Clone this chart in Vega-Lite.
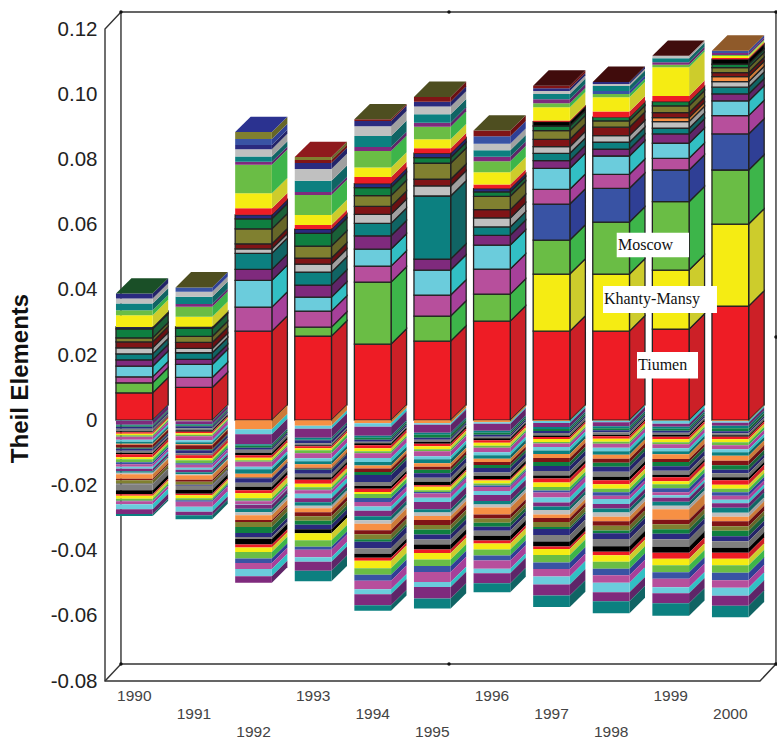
{"$schema":"https://vega.github.io/schema/vega-lite/v6.json","width":655,"height":652,"autosize":"none","padding":{"left":105,"top":29,"right":17,"bottom":64},"background":"white","config":{"view":{"stroke":null}},
"datasets":{"main":[
{"y":1990,"r":"P01","v":0.00838},{"y":1990,"r":"P03","v":0.00307},{"y":1990,"r":"P05","v":0.00184},{"y":1990,"r":"P06","v":0.00328},{"y":1990,"r":"P07","v":0.00193},{"y":1990,"r":"P08","v":0.00184},{"y":1990,"r":"P09","v":0.00184},{"y":1990,"r":"P11","v":0.00184},{"y":1990,"r":"P12","v":0.00123},{"y":1990,"r":"P13","v":0.00276},{"y":1990,"r":"P14","v":0.00061},{"y":1990,"r":"U17","v":0.00359},{"y":1990,"r":"U18","v":0.00153},{"y":1990,"r":"U21","v":0.00206},{"y":1990,"r":"U22","v":0.00153},{"y":1990,"r":"U23","v":0.00153},
{"y":1991,"r":"P01","v":0.01004},{"y":1991,"r":"P05","v":0.00307},{"y":1991,"r":"P06","v":0.00399},{"y":1991,"r":"P07","v":0.00153},{"y":1991,"r":"P08","v":0.00206},{"y":1991,"r":"P09","v":0.00132},{"y":1991,"r":"P11","v":0.00184},{"y":1991,"r":"P12","v":0.00184},{"y":1991,"r":"P13","v":0.00246},{"y":1991,"r":"P14","v":0.00052},{"y":1991,"r":"U17","v":0.00307},{"y":1991,"r":"U18","v":0.00307},{"y":1991,"r":"U20","v":0.00083},{"y":1991,"r":"U21","v":0.00224},{"y":1991,"r":"U22","v":0.00153},{"y":1991,"r":"U24","v":0.00132},
{"y":1992,"r":"P01","v":0.02732},{"y":1992,"r":"P05","v":0.00737},{"y":1992,"r":"P06","v":0.0082},{"y":1992,"r":"P07","v":0.00338},{"y":1992,"r":"P08","v":0.00491},{"y":1992,"r":"P09","v":0.00138},{"y":1992,"r":"P11","v":0.00153},{"y":1992,"r":"P12","v":0.00461},{"y":1992,"r":"P13","v":0.00307},{"y":1992,"r":"P14","v":0.00123},{"y":1992,"r":"U16","v":0.002},{"y":1992,"r":"U17","v":0.00461},{"y":1992,"r":"U18","v":0.00872},{"y":1992,"r":"U20","v":0.00092},{"y":1992,"r":"U21","v":0.00163},{"y":1992,"r":"U22","v":0.00227},{"y":1992,"r":"U23","v":0.00123},{"y":1992,"r":"U24","v":0.00184},{"y":1992,"r":"U26","v":0.00215},
{"y":1993,"r":"P01","v":0.02579},{"y":1993,"r":"P03","v":0.00276},{"y":1993,"r":"P05","v":0.00491},{"y":1993,"r":"P06","v":0.0043},{"y":1993,"r":"P07","v":0.00368},{"y":1993,"r":"P08","v":0.00399},{"y":1993,"r":"P09","v":0.00246},{"y":1993,"r":"P11","v":0.00184},{"y":1993,"r":"P12","v":0.00368},{"y":1993,"r":"P13","v":0.0039},{"y":1993,"r":"P14","v":0.00132},{"y":1993,"r":"U16","v":0.00123},{"y":1993,"r":"U17","v":0.00307},{"y":1993,"r":"U18","v":0.00614},{"y":1993,"r":"U20","v":0.00092},{"y":1993,"r":"U21","v":0.00347},{"y":1993,"r":"U22","v":0.00359},{"y":1993,"r":"U23","v":0.00184},{"y":1993,"r":"U25","v":0.00092},{"y":1993,"r":"U26","v":0.00092},
{"y":1994,"r":"P01","v":0.02333},{"y":1994,"r":"P03","v":0.01903},{"y":1994,"r":"P05","v":0.00491},{"y":1994,"r":"P06","v":0.00522},{"y":1994,"r":"P07","v":0.00408},{"y":1994,"r":"P08","v":0.00381},{"y":1994,"r":"P09","v":0.00276},{"y":1994,"r":"P11","v":0.00246},{"y":1994,"r":"P12","v":0.00328},{"y":1994,"r":"P13","v":0.00246},{"y":1994,"r":"P14","v":0.00123},{"y":1994,"r":"U16","v":0.00203},{"y":1994,"r":"U17","v":0.00289},{"y":1994,"r":"U18","v":0.0051},{"y":1994,"r":"U20","v":0.00123},{"y":1994,"r":"U21","v":0.00338},{"y":1994,"r":"U22","v":0.00298},{"y":1994,"r":"U23","v":0.00163},{"y":1994,"r":"U25","v":0.00052},
{"y":1995,"r":"P01","v":0.02425},{"y":1995,"r":"P03","v":0.00768},{"y":1995,"r":"P05","v":0.00645},{"y":1995,"r":"P06","v":0.00768},{"y":1995,"r":"P07","v":0.00338},{"y":1995,"r":"P08","v":0.01934},{"y":1995,"r":"P09","v":0.00307},{"y":1995,"r":"P11","v":0.00206},{"y":1995,"r":"P12","v":0.00491},{"y":1995,"r":"P13","v":0.00172},{"y":1995,"r":"P14","v":0.00135},{"y":1995,"r":"U16","v":0.00153},{"y":1995,"r":"U17","v":0.00276},{"y":1995,"r":"U18","v":0.00387},{"y":1995,"r":"U20","v":0.00123},{"y":1995,"r":"U21","v":0.00258},{"y":1995,"r":"U22","v":0.00233},{"y":1995,"r":"U23","v":0.00153},{"y":1995,"r":"U25","v":0.00144},
{"y":1996,"r":"P01","v":0.03039},{"y":1996,"r":"P03","v":0.00829},{"y":1996,"r":"P05","v":0.00768},{"y":1996,"r":"P06","v":0.00737},{"y":1996,"r":"P07","v":0.00298},{"y":1996,"r":"P08","v":0.00258},{"y":1996,"r":"P09","v":0.00276},{"y":1996,"r":"P11","v":0.00255},{"y":1996,"r":"P12","v":0.00408},{"y":1996,"r":"P13","v":0.00135},{"y":1996,"r":"P14","v":0.00101},{"y":1996,"r":"U16","v":0.00123},{"y":1996,"r":"U17","v":0.00378},{"y":1996,"r":"U18","v":0.00338},{"y":1996,"r":"U20","v":0.00135},{"y":1996,"r":"U21","v":0.00203},{"y":1996,"r":"U22","v":0.00196},{"y":1996,"r":"U24","v":0.00233},{"y":1996,"r":"U25","v":0.00175},
{"y":1997,"r":"P01","v":0.02732},{"y":1997,"r":"P02","v":0.0175},{"y":1997,"r":"P03","v":0.01044},{"y":1997,"r":"P04","v":0.01105},{"y":1997,"r":"P05","v":0.00451},{"y":1997,"r":"P06","v":0.00645},{"y":1997,"r":"P07","v":0.00233},{"y":1997,"r":"P08","v":0.00227},{"y":1997,"r":"P09","v":0.00203},{"y":1997,"r":"P11","v":0.00227},{"y":1997,"r":"P12","v":0.00264},{"y":1997,"r":"P13","v":0.00144},{"y":1997,"r":"P15","v":0.00132},{"y":1997,"r":"U16","v":0.00037},{"y":1997,"r":"U17","v":0.00405},{"y":1997,"r":"U18","v":0.00123},{"y":1997,"r":"U20","v":0.00123},{"y":1997,"r":"U21","v":0.00163},{"y":1997,"r":"U22","v":0.00092},{"y":1997,"r":"U23","v":0.00083},{"y":1997,"r":"U25","v":0.0008},
{"y":1998,"r":"P01","v":0.02732},{"y":1998,"r":"P02","v":0.0175},{"y":1998,"r":"P03","v":0.01596},{"y":1998,"r":"P04","v":0.01035},{"y":1998,"r":"P05","v":0.0043},{"y":1998,"r":"P06","v":0.00562},{"y":1998,"r":"P07","v":0.00206},{"y":1998,"r":"P08","v":0.00215},{"y":1998,"r":"P09","v":0.00203},{"y":1998,"r":"P11","v":0.00258},{"y":1998,"r":"P12","v":0.00193},{"y":1998,"r":"P13","v":0.00114},{"y":1998,"r":"U16","v":0.00172},{"y":1998,"r":"U17","v":0.00442},{"y":1998,"r":"U18","v":0.00101},{"y":1998,"r":"U19","v":0.00092},{"y":1998,"r":"U21","v":0.00153},{"y":1998,"r":"U22","v":0.00061},{"y":1998,"r":"U23","v":0.00061},
{"y":1999,"r":"P01","v":0.02794},{"y":1999,"r":"P02","v":0.01811},{"y":1999,"r":"P03","v":0.02097},{"y":1999,"r":"P04","v":0.00973},{"y":1999,"r":"P05","v":0.00359},{"y":1999,"r":"P06","v":0.00461},{"y":1999,"r":"P07","v":0.00286},{"y":1999,"r":"P08","v":0.00175},{"y":1999,"r":"P09","v":0.00203},{"y":1999,"r":"P10","v":0.00123},{"y":1999,"r":"P11","v":0.00153},{"y":1999,"r":"P12","v":0.00206},{"y":1999,"r":"P13","v":0.00132},{"y":1999,"r":"U16","v":0.00175},{"y":1999,"r":"U17","v":0.00881},{"y":1999,"r":"U18","v":0.00071},{"y":1999,"r":"U20","v":0.00083},{"y":1999,"r":"U21","v":0.00123},{"y":1999,"r":"U22","v":0.00071},
{"y":2000,"r":"P01","v":0.035},{"y":2000,"r":"P02","v":0.02517},{"y":2000,"r":"P03","v":0.01658},{"y":2000,"r":"P04","v":0.01105},{"y":2000,"r":"P05","v":0.00562},{"y":2000,"r":"P06","v":0.00451},{"y":2000,"r":"P07","v":0.00215},{"y":2000,"r":"P08","v":0.00206},{"y":2000,"r":"P09","v":0.00172},{"y":2000,"r":"P10","v":0.00153},{"y":2000,"r":"P11","v":0.00123},{"y":2000,"r":"P12","v":0.00153},{"y":2000,"r":"P13","v":0.00104},{"y":2000,"r":"P15","v":0.00153},{"y":2000,"r":"U16","v":0.0004},{"y":2000,"r":"U17","v":0.00061},{"y":2000,"r":"U18","v":0.00031},{"y":2000,"r":"U24","v":0.00071},{"y":2000,"r":"U20","v":0.00061},
{"y":1990,"r":"N02","v":-0.00015},{"y":1990,"r":"N03","v":-0.00123},{"y":1990,"r":"N04","v":-0.00031},{"y":1990,"r":"N05","v":-0.00031},{"y":1990,"r":"N06","v":-0.00061},{"y":1990,"r":"N07","v":-0.00077},{"y":1990,"r":"N08","v":-0.00031},{"y":1990,"r":"N09","v":-0.00046},{"y":1990,"r":"N10","v":-0.00046},{"y":1990,"r":"N11","v":-0.00046},{"y":1990,"r":"N12","v":-0.00092},{"y":1990,"r":"N13","v":-0.00061},{"y":1990,"r":"N14","v":-0.00061},{"y":1990,"r":"N15","v":-0.00031},{"y":1990,"r":"N16","v":-0.00092},{"y":1990,"r":"N17","v":-0.00031},{"y":1990,"r":"N18","v":-0.00061},{"y":1990,"r":"N19","v":-0.00061},{"y":1990,"r":"N20","v":-0.00046},{"y":1990,"r":"N21","v":-0.00092},{"y":1990,"r":"N22","v":-0.00061},{"y":1990,"r":"N23","v":-0.00092},{"y":1990,"r":"N24","v":-0.00061},{"y":1990,"r":"N25","v":-0.00077},{"y":1990,"r":"N26","v":-0.00061},{"y":1990,"r":"N27","v":-0.00077},{"y":1990,"r":"N28","v":-0.00046},{"y":1990,"r":"N29","v":-0.00046},{"y":1990,"r":"N30","v":-0.00138},{"y":1990,"r":"N31","v":-0.00046},{"y":1990,"r":"N32","v":-0.00107},{"y":1990,"r":"N34","v":-0.00015},{"y":1990,"r":"N35","v":-0.00184},{"y":1990,"r":"N36","v":-0.00123},{"y":1990,"r":"N37","v":-0.00046},{"y":1990,"r":"N38","v":-0.00092},{"y":1990,"r":"N39","v":-0.00061},{"y":1990,"r":"N40","v":-0.00015},{"y":1990,"r":"N41","v":-0.00092},{"y":1990,"r":"N42","v":-0.00153},{"y":1990,"r":"N43","v":-0.00153},{"y":1990,"r":"N44","v":-0.00061},
{"y":1991,"r":"N01","v":-0.00015},{"y":1991,"r":"N02","v":-0.00015},{"y":1991,"r":"N03","v":-0.00092},{"y":1991,"r":"N04","v":-0.00031},{"y":1991,"r":"N05","v":-0.00031},{"y":1991,"r":"N06","v":-0.00061},{"y":1991,"r":"N07","v":-0.00061},{"y":1991,"r":"N08","v":-0.00046},{"y":1991,"r":"N09","v":-0.00046},{"y":1991,"r":"N10","v":-0.00046},{"y":1991,"r":"N11","v":-0.00046},{"y":1991,"r":"N12","v":-0.00123},{"y":1991,"r":"N13","v":-0.00061},{"y":1991,"r":"N14","v":-0.00061},{"y":1991,"r":"N15","v":-0.00031},{"y":1991,"r":"N16","v":-0.00123},{"y":1991,"r":"N17","v":-0.00031},{"y":1991,"r":"N18","v":-0.00092},{"y":1991,"r":"N19","v":-0.00046},{"y":1991,"r":"N20","v":-0.00015},{"y":1991,"r":"N21","v":-0.00092},{"y":1991,"r":"N22","v":-0.00061},{"y":1991,"r":"N23","v":-0.00092},{"y":1991,"r":"N24","v":-0.00046},{"y":1991,"r":"N25","v":-0.00092},{"y":1991,"r":"N26","v":-0.00061},{"y":1991,"r":"N27","v":-0.00077},{"y":1991,"r":"N28","v":-0.00061},{"y":1991,"r":"N29","v":-0.00031},{"y":1991,"r":"N30","v":-0.00138},{"y":1991,"r":"N31","v":-0.00061},{"y":1991,"r":"N32","v":-0.00092},{"y":1991,"r":"N34","v":-0.00031},{"y":1991,"r":"N35","v":-0.00123},{"y":1991,"r":"N36","v":-0.00123},{"y":1991,"r":"N37","v":-0.00046},{"y":1991,"r":"N38","v":-0.00092},{"y":1991,"r":"N39","v":-0.00061},{"y":1991,"r":"N40","v":-0.00046},{"y":1991,"r":"N41","v":-0.00153},{"y":1991,"r":"N42","v":-0.00153},{"y":1991,"r":"N43","v":-0.00107},{"y":1991,"r":"N44","v":-0.00123},
{"y":1992,"r":"N01","v":-0.00276},{"y":1992,"r":"N02","v":-0.00153},{"y":1992,"r":"N03","v":-0.00307},{"y":1992,"r":"N04","v":-0.00046},{"y":1992,"r":"N05","v":-0.00061},{"y":1992,"r":"N06","v":-0.00061},{"y":1992,"r":"N07","v":-0.00092},{"y":1992,"r":"N08","v":-0.00077},{"y":1992,"r":"N09","v":-0.00077},{"y":1992,"r":"N10","v":-0.00077},{"y":1992,"r":"N11","v":-0.00046},{"y":1992,"r":"N12","v":-0.00153},{"y":1992,"r":"N13","v":-0.00077},{"y":1992,"r":"N14","v":-0.00138},{"y":1992,"r":"N15","v":-0.00107},{"y":1992,"r":"N16","v":-0.00015},{"y":1992,"r":"N17","v":-0.00015},{"y":1992,"r":"N18","v":-0.00138},{"y":1992,"r":"N19","v":-0.00123},{"y":1992,"r":"N20","v":-0.00107},{"y":1992,"r":"N21","v":-0.00092},{"y":1992,"r":"N22","v":-0.00153},{"y":1992,"r":"N23","v":-0.00077},{"y":1992,"r":"N24","v":-0.00015},{"y":1992,"r":"N25","v":-0.00092},{"y":1992,"r":"N26","v":-0.00015},{"y":1992,"r":"N27","v":-0.00123},{"y":1992,"r":"N28","v":-0.00107},{"y":1992,"r":"N29","v":-0.00092},{"y":1992,"r":"N30","v":-0.00153},{"y":1992,"r":"N31","v":-0.00061},{"y":1992,"r":"N32","v":-0.00153},{"y":1992,"r":"N33","v":-0.00184},{"y":1992,"r":"N34","v":-0.00123},{"y":1992,"r":"N35","v":-0.00061},{"y":1992,"r":"N36","v":-0.00169},{"y":1992,"r":"N37","v":-0.00092},{"y":1992,"r":"N38","v":-0.00138},{"y":1992,"r":"N39","v":-0.002},{"y":1992,"r":"N40","v":-0.00138},{"y":1992,"r":"N41","v":-0.00184},{"y":1992,"r":"N42","v":-0.00215},{"y":1992,"r":"N43","v":-0.002},
{"y":1993,"r":"N01","v":-0.00169},{"y":1993,"r":"N02","v":-0.00092},{"y":1993,"r":"N03","v":-0.00276},{"y":1993,"r":"N04","v":-0.00061},{"y":1993,"r":"N05","v":-0.00015},{"y":1993,"r":"N06","v":-0.00092},{"y":1993,"r":"N07","v":-0.00061},{"y":1993,"r":"N08","v":-0.00031},{"y":1993,"r":"N09","v":-0.00061},{"y":1993,"r":"N10","v":-0.00061},{"y":1993,"r":"N11","v":-0.00092},{"y":1993,"r":"N12","v":-0.00153},{"y":1993,"r":"N13","v":-0.00092},{"y":1993,"r":"N14","v":-0.00092},{"y":1993,"r":"N15","v":-0.00107},{"y":1993,"r":"N16","v":-0.00031},{"y":1993,"r":"N17","v":-0.00031},{"y":1993,"r":"N18","v":-0.00123},{"y":1993,"r":"N19","v":-0.00107},{"y":1993,"r":"N20","v":-0.00077},{"y":1993,"r":"N21","v":-0.00123},{"y":1993,"r":"N22","v":-0.00107},{"y":1993,"r":"N23","v":-0.00077},{"y":1993,"r":"N24","v":-0.00015},{"y":1993,"r":"N25","v":-0.00107},{"y":1993,"r":"N26","v":-0.00138},{"y":1993,"r":"N27","v":-0.00123},{"y":1993,"r":"N28","v":-0.00107},{"y":1993,"r":"N29","v":-0.00077},{"y":1993,"r":"N30","v":-0.00123},{"y":1993,"r":"N31","v":-0.00123},{"y":1993,"r":"N32","v":-0.00138},{"y":1993,"r":"N33","v":-0.00123},{"y":1993,"r":"N34","v":-0.00138},{"y":1993,"r":"N36","v":-0.00123},{"y":1993,"r":"N38","v":-0.00215},{"y":1993,"r":"N39","v":-0.002},{"y":1993,"r":"N40","v":-0.00092},{"y":1993,"r":"N41","v":-0.0023},{"y":1993,"r":"N42","v":-0.00138},{"y":1993,"r":"N43","v":-0.00276},{"y":1993,"r":"N44","v":-0.00322},
{"y":1994,"r":"N01","v":-0.00092},{"y":1994,"r":"N02","v":-0.00107},{"y":1994,"r":"N03","v":-0.00276},{"y":1994,"r":"N04","v":-0.00061},{"y":1994,"r":"N05","v":-0.00061},{"y":1994,"r":"N06","v":-0.00061},{"y":1994,"r":"N07","v":-0.00046},{"y":1994,"r":"N08","v":-0.00061},{"y":1994,"r":"N09","v":-0.00092},{"y":1994,"r":"N10","v":-0.00092},{"y":1994,"r":"N11","v":-0.00061},{"y":1994,"r":"N12","v":-0.00153},{"y":1994,"r":"N13","v":-0.00123},{"y":1994,"r":"N14","v":-0.00107},{"y":1994,"r":"N15","v":-0.00092},{"y":1994,"r":"N16","v":-0.00107},{"y":1994,"r":"N17","v":-0.00092},{"y":1994,"r":"N18","v":-0.00215},{"y":1994,"r":"N19","v":-0.00123},{"y":1994,"r":"N20","v":-0.00077},{"y":1994,"r":"N21","v":-0.00107},{"y":1994,"r":"N22","v":-0.00061},{"y":1994,"r":"N23","v":-0.00123},{"y":1994,"r":"N24","v":-0.00123},{"y":1994,"r":"N25","v":-0.00138},{"y":1994,"r":"N26","v":-0.00123},{"y":1994,"r":"N27","v":-0.00169},{"y":1994,"r":"N28","v":-0.00123},{"y":1994,"r":"N29","v":-0.00107},{"y":1994,"r":"N30","v":-0.002},{"y":1994,"r":"N31","v":-0.00123},{"y":1994,"r":"N32","v":-0.00153},{"y":1994,"r":"N33","v":-0.00077},{"y":1994,"r":"N34","v":-0.002},{"y":1994,"r":"N35","v":-0.00169},{"y":1994,"r":"N36","v":-0.00123},{"y":1994,"r":"N37","v":-0.00092},{"y":1994,"r":"N38","v":-0.0023},{"y":1994,"r":"N39","v":-0.002},{"y":1994,"r":"N40","v":-0.00184},{"y":1994,"r":"N41","v":-0.00261},{"y":1994,"r":"N42","v":-0.00153},{"y":1994,"r":"N43","v":-0.00338},{"y":1994,"r":"N44","v":-0.00169},
{"y":1995,"r":"N01","v":-0.00092},{"y":1995,"r":"N02","v":-0.00046},{"y":1995,"r":"N03","v":-0.00246},{"y":1995,"r":"N04","v":-0.00061},{"y":1995,"r":"N05","v":-0.00092},{"y":1995,"r":"N06","v":-0.00061},{"y":1995,"r":"N07","v":-0.00061},{"y":1995,"r":"N08","v":-0.00061},{"y":1995,"r":"N09","v":-0.00077},{"y":1995,"r":"N10","v":-0.00092},{"y":1995,"r":"N11","v":-0.00061},{"y":1995,"r":"N12","v":-0.00153},{"y":1995,"r":"N13","v":-0.00092},{"y":1995,"r":"N14","v":-0.00123},{"y":1995,"r":"N15","v":-0.00107},{"y":1995,"r":"N16","v":-0.00092},{"y":1995,"r":"N17","v":-0.00107},{"y":1995,"r":"N18","v":-0.00138},{"y":1995,"r":"N19","v":-0.00123},{"y":1995,"r":"N20","v":-0.00107},{"y":1995,"r":"N21","v":-0.00046},{"y":1995,"r":"N22","v":-0.00107},{"y":1995,"r":"N23","v":-0.00061},{"y":1995,"r":"N24","v":-0.00046},{"y":1995,"r":"N25","v":-0.00123},{"y":1995,"r":"N26","v":-0.00138},{"y":1995,"r":"N27","v":-0.00215},{"y":1995,"r":"N28","v":-0.00107},{"y":1995,"r":"N29","v":-0.00107},{"y":1995,"r":"N30","v":-0.00123},{"y":1995,"r":"N31","v":-0.00153},{"y":1995,"r":"N32","v":-0.00138},{"y":1995,"r":"N33","v":-0.00153},{"y":1995,"r":"N34","v":-0.00153},{"y":1995,"r":"N35","v":-0.00153},{"y":1995,"r":"N36","v":-0.00153},{"y":1995,"r":"N37","v":-0.00107},{"y":1995,"r":"N38","v":-0.002},{"y":1995,"r":"N39","v":-0.002},{"y":1995,"r":"N40","v":-0.00184},{"y":1995,"r":"N41","v":-0.00307},{"y":1995,"r":"N42","v":-0.00153},{"y":1995,"r":"N43","v":-0.00353},{"y":1995,"r":"N44","v":-0.00307},
{"y":1996,"r":"N01","v":-0.00061},{"y":1996,"r":"N02","v":-0.00046},{"y":1996,"r":"N03","v":-0.00215},{"y":1996,"r":"N04","v":-0.00061},{"y":1996,"r":"N05","v":-0.00061},{"y":1996,"r":"N06","v":-0.00061},{"y":1996,"r":"N07","v":-0.00046},{"y":1996,"r":"N08","v":-0.00061},{"y":1996,"r":"N09","v":-0.00077},{"y":1996,"r":"N10","v":-0.00092},{"y":1996,"r":"N11","v":-0.00061},{"y":1996,"r":"N12","v":-0.00138},{"y":1996,"r":"N13","v":-0.00092},{"y":1996,"r":"N14","v":-0.00107},{"y":1996,"r":"N15","v":-0.00107},{"y":1996,"r":"N16","v":-0.00092},{"y":1996,"r":"N17","v":-0.00092},{"y":1996,"r":"N18","v":-0.00138},{"y":1996,"r":"N19","v":-0.00107},{"y":1996,"r":"N20","v":-0.00092},{"y":1996,"r":"N21","v":-0.00046},{"y":1996,"r":"N22","v":-0.00092},{"y":1996,"r":"N23","v":-0.00061},{"y":1996,"r":"N24","v":-0.00046},{"y":1996,"r":"N25","v":-0.00123},{"y":1996,"r":"N26","v":-0.00123},{"y":1996,"r":"N27","v":-0.00184},{"y":1996,"r":"N28","v":-0.00107},{"y":1996,"r":"N29","v":-0.00092},{"y":1996,"r":"N30","v":-0.00215},{"y":1996,"r":"N31","v":-0.00123},{"y":1996,"r":"N32","v":-0.00123},{"y":1996,"r":"N33","v":-0.00123},{"y":1996,"r":"N34","v":-0.00123},{"y":1996,"r":"N35","v":-0.00153},{"y":1996,"r":"N36","v":-0.00153},{"y":1996,"r":"N37","v":-0.00092},{"y":1996,"r":"N38","v":-0.00184},{"y":1996,"r":"N39","v":-0.00184},{"y":1996,"r":"N40","v":-0.00153},{"y":1996,"r":"N41","v":-0.00246},{"y":1996,"r":"N42","v":-0.00138},{"y":1996,"r":"N43","v":-0.00307},{"y":1996,"r":"N44","v":-0.00276},
{"y":1997,"r":"N01","v":-0.00025},{"y":1997,"r":"N02","v":-0.00061},{"y":1997,"r":"N03","v":-0.00123},{"y":1997,"r":"N04","v":-0.00061},{"y":1997,"r":"N05","v":-0.00061},{"y":1997,"r":"N06","v":-0.00061},{"y":1997,"r":"N07","v":-0.00077},{"y":1997,"r":"N08","v":-0.00046},{"y":1997,"r":"N09","v":-0.00061},{"y":1997,"r":"N10","v":-0.00092},{"y":1997,"r":"N11","v":-0.00046},{"y":1997,"r":"N12","v":-0.00107},{"y":1997,"r":"N13","v":-0.00107},{"y":1997,"r":"N14","v":-0.00107},{"y":1997,"r":"N15","v":-0.00123},{"y":1997,"r":"N16","v":-0.00123},{"y":1997,"r":"N17","v":-0.00123},{"y":1997,"r":"N18","v":-0.00153},{"y":1997,"r":"N19","v":-0.00138},{"y":1997,"r":"N20","v":-0.00092},{"y":1997,"r":"N21","v":-0.00123},{"y":1997,"r":"N22","v":-0.00138},{"y":1997,"r":"N23","v":-0.00107},{"y":1997,"r":"N24","v":-0.00061},{"y":1997,"r":"N25","v":-0.00153},{"y":1997,"r":"N26","v":-0.00153},{"y":1997,"r":"N27","v":-0.00123},{"y":1997,"r":"N28","v":-0.00107},{"y":1997,"r":"N29","v":-0.00138},{"y":1997,"r":"N30","v":-0.00107},{"y":1997,"r":"N31","v":-0.00123},{"y":1997,"r":"N32","v":-0.00153},{"y":1997,"r":"N33","v":-0.00061},{"y":1997,"r":"N34","v":-0.00184},{"y":1997,"r":"N35","v":-0.002},{"y":1997,"r":"N36","v":-0.00153},{"y":1997,"r":"N37","v":-0.00077},{"y":1997,"r":"N38","v":-0.00184},{"y":1997,"r":"N39","v":-0.0023},{"y":1997,"r":"N40","v":-0.002},{"y":1997,"r":"N41","v":-0.0023},{"y":1997,"r":"N42","v":-0.00246},{"y":1997,"r":"N43","v":-0.00338},{"y":1997,"r":"N44","v":-0.00353},
{"y":1998,"r":"N01","v":-0.00015},{"y":1998,"r":"N02","v":-0.00046},{"y":1998,"r":"N03","v":-0.00123},{"y":1998,"r":"N04","v":-0.00061},{"y":1998,"r":"N05","v":-0.00061},{"y":1998,"r":"N06","v":-0.00061},{"y":1998,"r":"N07","v":-0.00077},{"y":1998,"r":"N08","v":-0.00046},{"y":1998,"r":"N09","v":-0.00077},{"y":1998,"r":"N10","v":-0.00092},{"y":1998,"r":"N11","v":-0.00061},{"y":1998,"r":"N12","v":-0.00123},{"y":1998,"r":"N13","v":-0.00107},{"y":1998,"r":"N14","v":-0.00107},{"y":1998,"r":"N15","v":-0.00123},{"y":1998,"r":"N16","v":-0.00123},{"y":1998,"r":"N17","v":-0.00123},{"y":1998,"r":"N18","v":-0.00153},{"y":1998,"r":"N19","v":-0.00153},{"y":1998,"r":"N20","v":-0.00107},{"y":1998,"r":"N21","v":-0.00123},{"y":1998,"r":"N22","v":-0.00138},{"y":1998,"r":"N23","v":-0.00107},{"y":1998,"r":"N24","v":-0.00107},{"y":1998,"r":"N25","v":-0.00107},{"y":1998,"r":"N26","v":-0.00153},{"y":1998,"r":"N27","v":-0.00138},{"y":1998,"r":"N28","v":-0.00123},{"y":1998,"r":"N29","v":-0.00123},{"y":1998,"r":"N30","v":-0.00138},{"y":1998,"r":"N31","v":-0.00138},{"y":1998,"r":"N32","v":-0.00153},{"y":1998,"r":"N33","v":-0.00077},{"y":1998,"r":"N34","v":-0.00184},{"y":1998,"r":"N35","v":-0.00215},{"y":1998,"r":"N36","v":-0.00169},{"y":1998,"r":"N37","v":-0.00107},{"y":1998,"r":"N38","v":-0.002},{"y":1998,"r":"N39","v":-0.00215},{"y":1998,"r":"N40","v":-0.002},{"y":1998,"r":"N41","v":-0.0023},{"y":1998,"r":"N42","v":-0.00292},{"y":1998,"r":"N43","v":-0.00276},{"y":1998,"r":"N44","v":-0.00368},
{"y":1999,"r":"N01","v":-0.00015},{"y":1999,"r":"N02","v":-0.00092},{"y":1999,"r":"N03","v":-0.00092},{"y":1999,"r":"N04","v":-0.00061},{"y":1999,"r":"N05","v":-0.00061},{"y":1999,"r":"N06","v":-0.00061},{"y":1999,"r":"N07","v":-0.00061},{"y":1999,"r":"N08","v":-0.00061},{"y":1999,"r":"N09","v":-0.00077},{"y":1999,"r":"N10","v":-0.00092},{"y":1999,"r":"N11","v":-0.00061},{"y":1999,"r":"N12","v":-0.00123},{"y":1999,"r":"N13","v":-0.00092},{"y":1999,"r":"N14","v":-0.00092},{"y":1999,"r":"N15","v":-0.00153},{"y":1999,"r":"N16","v":-0.00092},{"y":1999,"r":"N17","v":-0.00123},{"y":1999,"r":"N18","v":-0.00138},{"y":1999,"r":"N19","v":-0.00123},{"y":1999,"r":"N20","v":-0.00077},{"y":1999,"r":"N21","v":-0.00123},{"y":1999,"r":"N22","v":-0.00092},{"y":1999,"r":"N23","v":-0.00123},{"y":1999,"r":"N24","v":-0.00123},{"y":1999,"r":"N25","v":-0.00092},{"y":1999,"r":"N26","v":-0.00077},{"y":1999,"r":"N27","v":-0.00123},{"y":1999,"r":"N28","v":-0.00123},{"y":1999,"r":"N29","v":-0.00107},{"y":1999,"r":"N30","v":-0.00322},{"y":1999,"r":"N31","v":-0.00138},{"y":1999,"r":"N32","v":-0.00153},{"y":1999,"r":"N33","v":-0.00138},{"y":1999,"r":"N34","v":-0.00169},{"y":1999,"r":"N35","v":-0.0023},{"y":1999,"r":"N36","v":-0.00184},{"y":1999,"r":"N37","v":-0.00184},{"y":1999,"r":"N38","v":-0.002},{"y":1999,"r":"N39","v":-0.00215},{"y":1999,"r":"N40","v":-0.002},{"y":1999,"r":"N41","v":-0.00261},{"y":1999,"r":"N42","v":-0.00184},{"y":1999,"r":"N43","v":-0.00307},{"y":1999,"r":"N44","v":-0.00384},
{"y":2000,"r":"N01","v":-0.00031},{"y":2000,"r":"N02","v":-0.00046},{"y":2000,"r":"N03","v":-0.00092},{"y":2000,"r":"N04","v":-0.00077},{"y":2000,"r":"N05","v":-0.00092},{"y":2000,"r":"N06","v":-0.00061},{"y":2000,"r":"N07","v":-0.00061},{"y":2000,"r":"N08","v":-0.00046},{"y":2000,"r":"N09","v":-0.00077},{"y":2000,"r":"N10","v":-0.00092},{"y":2000,"r":"N11","v":-0.00092},{"y":2000,"r":"N12","v":-0.00123},{"y":2000,"r":"N13","v":-0.00092},{"y":2000,"r":"N14","v":-0.00107},{"y":2000,"r":"N15","v":-0.00153},{"y":2000,"r":"N16","v":-0.00138},{"y":2000,"r":"N17","v":-0.00138},{"y":2000,"r":"N18","v":-0.00107},{"y":2000,"r":"N19","v":-0.00123},{"y":2000,"r":"N20","v":-0.00092},{"y":2000,"r":"N21","v":-0.00138},{"y":2000,"r":"N22","v":-0.00123},{"y":2000,"r":"N23","v":-0.00107},{"y":2000,"r":"N24","v":-0.00107},{"y":2000,"r":"N25","v":-0.00123},{"y":2000,"r":"N26","v":-0.00107},{"y":2000,"r":"N27","v":-0.00138},{"y":2000,"r":"N28","v":-0.00153},{"y":2000,"r":"N29","v":-0.00123},{"y":2000,"r":"N30","v":-0.00138},{"y":2000,"r":"N31","v":-0.00153},{"y":2000,"r":"N32","v":-0.00138},{"y":2000,"r":"N33","v":-0.00169},{"y":2000,"r":"N34","v":-0.00153},{"y":2000,"r":"N35","v":-0.002},{"y":2000,"r":"N36","v":-0.00153},{"y":2000,"r":"N37","v":-0.00184},{"y":2000,"r":"N38","v":-0.002},{"y":2000,"r":"N39","v":-0.0023},{"y":2000,"r":"N40","v":-0.0023},{"y":2000,"r":"N41","v":-0.0023},{"y":2000,"r":"N42","v":-0.00246},{"y":2000,"r":"N43","v":-0.00307},{"y":2000,"r":"N44","v":-0.00353}
],
"years":[{"y":1990},{"y":1991},{"y":1992},{"y":1993},{"y":1994},{"y":1995},{"y":1996},{"y":1997},{"y":1998},{"y":1999},{"y":2000}]},
"layer":[
{"data":{"values":[
{"s":"a","o":1,"x":1989.776,"t":0.12521},{"s":"a","o":2,"x":1989.508,"t":0.12},{"s":"a","o":3,"x":1989.508,"t":-0.08},{"s":"a","o":4,"x":2000.498,"t":-0.08},{"s":"a","o":5,"x":2000.766,"t":-0.07479},
{"s":"b","o":1,"x":1989.776,"t":-0.07479},{"s":"b","o":2,"x":1989.776,"t":0.12521},{"s":"b","o":3,"x":2000.766,"t":0.12521},{"s":"b","o":4,"x":2000.766,"t":-0.07479},{"s":"b","o":5,"x":1989.776,"t":-0.07479},
{"s":"c","o":1,"x":1989.508,"t":-0.08},{"s":"c","o":2,"x":1989.776,"t":-0.07479}]},
"mark":{"type":"line","color":"#333","strokeWidth":1.4,"clip":false},
"encoding":{"x":{"field":"x","type":"quantitative","scale":{"domain":[1989.508,2000.498],"nice":false,"zero":false},"axis":null},
"y":{"field":"t","type":"quantitative","scale":{"domain":[-0.08,0.12],"nice":false,"zero":false},
"axis":{"title":"Theil Elements","titleFont":"Liberation Sans","titleFontWeight":"bold","titleFontSize":24,"titleColor":"#111","titleX":-73,"titleY":349,"titleAngle":-90,"domain":false,"ticks":false,"grid":false,"values":[-0.08,-0.06,-0.04,-0.02,0,0.02,0.04,0.06,0.08,0.1,0.12],"labelExpr":"abs(datum.value)<0.0001?'0':(datum.value<0?'-':'')+format(abs(datum.value),'.2f')","labelFont":"Liberation Sans","labelFontSize":20.5,"labelColor":"#222","labelPadding":8}},
"detail":{"field":"s"},"order":{"field":"o"}}},
{"data":{"values":[{"x":1989.776,"t":0.12521},{"x":1995.28,"t":0.12521},{"x":2000.766,"t":0.12521},{"x":2000.766,"t":0.0255},{"x":1989.776,"t":-0.07479},{"x":1995.28,"t":-0.07479},{"x":2000.766,"t":-0.07479}]},
"mark":{"type":"point","filled":true,"color":"#111","size":12,"clip":false,"opacity":1},
"encoding":{"x":{"field":"x","type":"quantitative","axis":null},"y":{"field":"t","type":"quantitative","axis":null}}},
{"data":{"name":"main"},
"transform":[{"stack":"v","groupby":["y"],"sort":[{"field":"r","order":"ascending"}],"as":["b0","b1"]},{"calculate":"[0,1]","as":"e"},{"flatten":["e"]},{"calculate":"datum.y+0.308+datum.e*0.26","as":"sx"},{"calculate":"datum.b0+datum.e*0.0047","as":"a0"},{"calculate":"datum.b1+datum.e*0.0047","as":"a1"}],
"mark":{"type":"area","orient":"vertical","stroke":"#222","strokeWidth":1.3},
"encoding":{"x":{"field":"sx","type":"quantitative","axis":null},"y":{"field":"a0","type":"quantitative","stack":null,"axis":null},"y2":{"field":"a1"},"detail":{"field":"y"},
"strokeOpacity":{"condition":{"test":"datum.r[0]=='P'","value":1},"value":0},
"color":{"field":"r","type":"nominal","legend":null,"scale":{"domain":["P01","P02","P03","P04","P05","P06","P07","P08","P09","P10","P11","P12","P13","P14","P15","U16","U17","U18","U19","U20","U21","U22","U23","U24","U25","U26","N01","N02","N03","N04","N05","N06","N07","N08","N09","N10","N11","N12","N13","N14","N15","N16","N17","N18","N19","N20","N21","N22","N23","N24","N25","N26","N27","N28","N29","N30","N31","N32","N33","N34","N35","N36","N37","N38","N39","N40","N41","N42","N43","N44"],
"range":["#CC2027","#CDCC2C","#3DB54A","#2F3F95","#A6409A","#32BFC4","#5E2568","#106464","#A0A0A0","#CC7A38","#6A1012","#666628","#1A6038","#232368","#000000","#CC2027","#CDCC2C","#3DB54A","#2F3F95","#5E2568","#106464","#A0A0A0","#232368","#2F3F95","#6A1012","#666628","#CC7A38","#32BFC4","#5E2568","#106464","#1A6038","#232368","#6A6A6A","#000000","#CC2027","#CDCC2C","#3DB54A","#A6409A","#32BFC4","#106464","#CC7A38","#6A1012","#1A6038","#232368","#6A6A6A","#000000","#CC2027","#CDCC2C","#3DB54A","#2F3F95","#A6409A","#32BFC4","#5E2568","#106464","#A0A0A0","#CC7A38","#6A1012","#666628","#1A6038","#232368","#6A6A6A","#000000","#CC2027","#CDCC2C","#3DB54A","#2F3F95","#A6409A","#32BFC4","#5E2568","#106464"]}}}},
{"data":{"name":"main"},
"transform":[{"stack":"v","groupby":["y"],"sort":[{"field":"r","order":"ascending"}],"as":["b0","b1"]},{"calculate":"datum.y-0.308","as":"l"},{"calculate":"datum.y+0.308","as":"h"}],
"mark":{"type":"rect","stroke":"#222","strokeWidth":1.3},
"encoding":{"x":{"field":"l","type":"quantitative","axis":null},"x2":{"field":"h"},"y":{"field":"b0","type":"quantitative","axis":null},"y2":{"field":"b1"},
"strokeOpacity":{"condition":{"test":"datum.r[0]=='P'","value":1},"value":0},
"color":{"field":"r","type":"nominal","legend":null,"scale":{"domain":["P01","P02","P03","P04","P05","P06","P07","P08","P09","P10","P11","P12","P13","P14","P15","U16","U17","U18","U19","U20","U21","U22","U23","U24","U25","U26","N01","N02","N03","N04","N05","N06","N07","N08","N09","N10","N11","N12","N13","N14","N15","N16","N17","N18","N19","N20","N21","N22","N23","N24","N25","N26","N27","N28","N29","N30","N31","N32","N33","N34","N35","N36","N37","N38","N39","N40","N41","N42","N43","N44"],
"range":["#EE1C25","#F5EC13","#6ABD45","#3953A4","#B74F9C","#6BCCDC","#7F2A7D","#0C8080","#C0C0C0","#F79044","#801416","#808030","#0F7F40","#2A2A7F","#000000","#EE1C25","#F5EC13","#6ABD45","#3953A4","#7F2A7D","#0C8080","#C0C0C0","#2A2A7F","#3953A4","#801416","#808030","#F79044","#6BCCDC","#7F2A7D","#0C8080","#0F7F40","#2A2A7F","#808080","#000000","#EE1C25","#F5EC13","#6ABD45","#B74F9C","#6BCCDC","#0C8080","#F79044","#801416","#0F7F40","#2A2A7F","#808080","#000000","#EE1C25","#F5EC13","#6ABD45","#3953A4","#B74F9C","#6BCCDC","#7F2A7D","#0C8080","#C0C0C0","#F79044","#801416","#808030","#0F7F40","#2A2A7F","#808080","#000000","#EE1C25","#F5EC13","#6ABD45","#3953A4","#B74F9C","#6BCCDC","#7F2A7D","#0C8080"]}}}},
{"data":{"name":"main"},
"transform":[{"stack":"v","groupby":["y"],"sort":[{"field":"r","order":"ascending"}],"as":["b0","b1"]},{"aggregate":[{"op":"max","field":"b1","as":"top"}],"groupby":["y"]},{"calculate":"[0,1]","as":"e"},{"flatten":["e"]},{"calculate":"datum.y-0.308+datum.e*0.26","as":"l"},{"calculate":"datum.y+0.308+datum.e*0.26","as":"h"},{"calculate":"datum.top+datum.e*0.0047","as":"t"}],
"mark":{"type":"area","orient":"horizontal"},
"encoding":{"y":{"field":"t","type":"quantitative","axis":null},"x":{"field":"l","type":"quantitative","stack":null,"axis":null},"x2":{"field":"h"},"detail":{"field":"y"},
"color":{"field":"y","type":"nominal","legend":null,"scale":{"domain":[1990,1991,1992,1993,1994,1995,1996,1997,1998,1999,2000],"range":["#1A4F27","#4E4E20","#2B3290","#8F1A1D","#4E4E20","#4E4E20","#4E4E20","#400C0C","#400C0C","#400C0C","#8F5A2A"]}}}},
{"data":{"values":[{"n":"Moscow","a":1998.094,"b":1999.307,"c":0.0575,"d":0.04997},{"n":"Khanty-Mansy","a":1997.864,"b":1999.776,"c":0.04117,"d":0.0329},{"n":"Tiumen","a":1998.434,"b":1999.458,"c":0.0209,"d":0.0128}]},
"mark":{"type":"rect","color":"white"},
"encoding":{"x":{"field":"a","type":"quantitative","axis":null},"x2":{"field":"b"},"y":{"field":"c","type":"quantitative","axis":null},"y2":{"field":"d"}}},
{"data":{"values":[{"n":"Moscow","a":1998.115,"c":0.0537},{"n":"Khanty-Mansy","a":1997.88,"c":0.0372},{"n":"Tiumen","a":1998.451,"c":0.0169}]},
"mark":{"type":"text","align":"left","baseline":"middle","font":"Liberation Serif","fontSize":16,"color":"#111"},
"encoding":{"x":{"field":"a","type":"quantitative","axis":null},"y":{"field":"c","type":"quantitative","axis":null},"text":{"field":"n"}}},
{"data":{"name":"years"},"transform":[{"filter":"(datum.y-1990)%3==0"}],
"mark":{"type":"text","dy":15,"font":"Liberation Sans","fontSize":15.5,"color":"#444","baseline":"middle"},
"encoding":{"x":{"field":"y","type":"quantitative","axis":null},"y":{"datum":-0.08,"type":"quantitative","axis":null},"text":{"field":"y","type":"nominal"}}},
{"data":{"name":"years"},"transform":[{"filter":"(datum.y-1990)%3==1"}],
"mark":{"type":"text","dy":33,"font":"Liberation Sans","fontSize":15.5,"color":"#444","baseline":"middle"},
"encoding":{"x":{"field":"y","type":"quantitative","axis":null},"y":{"datum":-0.08,"type":"quantitative","axis":null},"text":{"field":"y","type":"nominal"}}},
{"data":{"name":"years"},"transform":[{"filter":"(datum.y-1990)%3==2"}],
"mark":{"type":"text","dy":51,"font":"Liberation Sans","fontSize":15.5,"color":"#444","baseline":"middle"},
"encoding":{"x":{"field":"y","type":"quantitative","axis":null},"y":{"datum":-0.08,"type":"quantitative","axis":null},"text":{"field":"y","type":"nominal"}}}
],
"resolve":{"scale":{"color":"independent"},"axis":{"y":"independent"}}}
